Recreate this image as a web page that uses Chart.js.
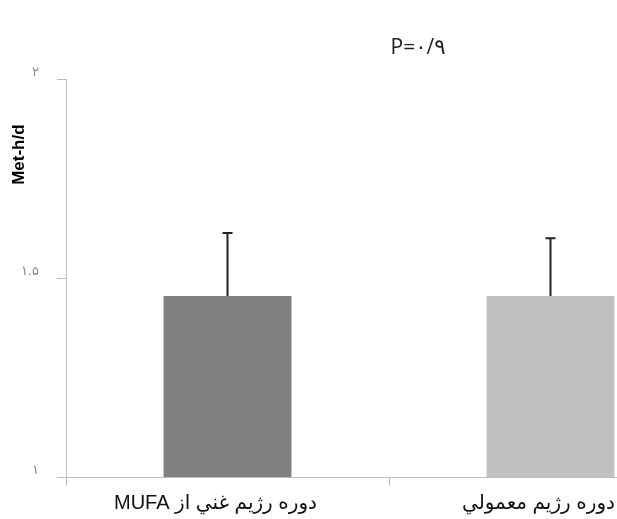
<!DOCTYPE html>
<html>
<head>
<meta charset="utf-8">
<script src="https://cdn.jsdelivr.net/npm/chart.js@4/dist/chart.umd.min.js"></script>
<style>
  html, body { margin: 0; padding: 0; background: #fff; overflow: hidden; }
  #wrap { position: relative; width: 712px; height: 519px; }
</style>
</head>
<body>
<div id="wrap"><canvas id="c"></canvas></div>
<script>
// data
const categories = ['\u202Bدوره رژيم غني از MUFA\u202C', '\u202Bدوره رژيم معمولي\u202C'];
const means = [1.455, 1.455];
const errors = [0.158, 0.145];
const barColors = ['#808080', '#c0c0c0'];
const yTickValues = [1, 1.5, 2];
const yTickLabels = ['۱', '۱.۵', '۲'];
const titleText = 'P=۰/۹';
const yTitle = 'Met-h/d';

// upward error bars, placed from the bar elements and the y scale
const errorBars = {
    id: 'errorBars',
    afterDatasetsDraw(chart) {
        const ctx = chart.ctx;
        const y = chart.scales.y;
        const meta = chart.getDatasetMeta(0);
        ctx.save();
        ctx.strokeStyle = '#222';
        ctx.lineWidth = 2;
        meta.data.forEach(function(bar, i) {
            const top = y.getPixelForValue(means[i] + errors[i]);
            ctx.beginPath();
            ctx.moveTo(bar.x, bar.y);
            ctx.lineTo(bar.x, top);
            ctx.moveTo(bar.x - 5, top);
            ctx.lineTo(bar.x + 5, top);
            ctx.stroke();
        });
        ctx.restore();
    }
};

// title and axis title sit off-centre in the original
const extraText = {
    id: 'extraText',
    afterDraw(chart) {
        const ctx = chart.ctx;
        const y = chart.scales.y;
        ctx.save();
        ctx.direction = 'ltr';
        ctx.fillStyle = '#222';
        ctx.textAlign = 'center';
        ctx.textBaseline = 'middle';
        ctx.font = '21px "Open Sans", "DejaVu Sans", sans-serif';
        ctx.fillText(titleText, 418, 48);

        ctx.font = 'bold 17px "Liberation Sans", Arial, sans-serif';
        ctx.fillStyle = '#000';
        ctx.translate(19, y.getPixelForValue(1.81));
        ctx.rotate(-Math.PI / 2);
        ctx.fillText(yTitle, 0, 0);
        ctx.restore();
    }
};

new Chart(document.getElementById('c'), {
    type: 'bar',
    data: {
        labels: categories,
        datasets: [{
            data: means,
            backgroundColor: barColors,
            borderWidth: 0,
            barPercentage: 0.396,
            categoryPercentage: 1
        }]
    },
    options: {
        responsive: true,
        maintainAspectRatio: false,
        animation: false,
        layout: { padding: { top: 79, right: 0, left: 0, bottom: 0 } },
        plugins: {
            legend: { display: false },
            tooltip: { enabled: false }
        },
        scales: {
            x: {
                grid: {
                    offset: true,
                    drawOnChartArea: false,
                    tickLength: 8,
                    color: '#bdbdbd'
                },
                border: { color: '#bdbdbd', width: 1 },
                ticks: {
                    color: '#111',
                    padding: 6,
                    labelOffset: -12,
                    maxRotation: 0,
                    font: { size: 20, family: '"Liberation Sans", "DejaVu Sans", sans-serif' }
                },
                afterFit: function(s) { s.height = 42; }
            },
            y: {
                min: 1,
                max: 2,
                afterBuildTicks: function(s) {
                    s.ticks = yTickValues.map(v => ({ value: v }));
                },
                grid: {
                    drawOnChartArea: false,
                    tickLength: 9,
                    color: '#bdbdbd'
                },
                border: { color: '#bdbdbd', width: 1 },
                ticks: {
                    color: '#888',
                    padding: 18,
                    labelOffset: -6,
                    font: { size: 13, family: '"DejaVu Sans", sans-serif' },
                    callback: function(v) {
                        return yTickLabels[yTickValues.indexOf(v)];
                    }
                },
                afterFit: function(s) { s.width = 66; }
            }
        }
    },
    plugins: [errorBars, extraText]
});
</script>
</body>
</html>
